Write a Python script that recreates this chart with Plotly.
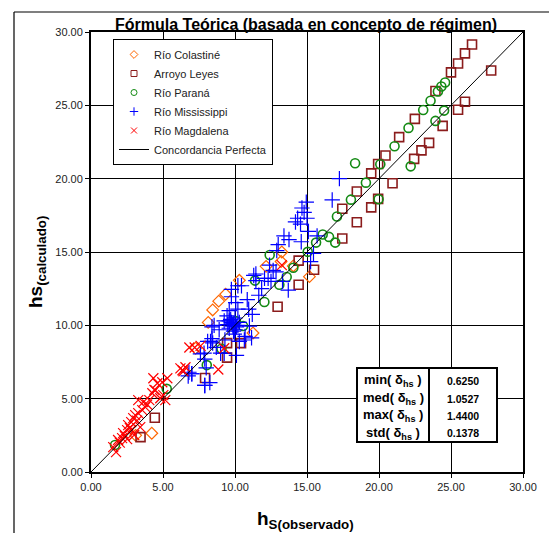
import plotly.graph_objects as go

# ---------------- data ----------------
colastine_x = [3.1, 4.22, 7.26, 8.14, 8.45, 8.87, 9.35, 10.3, 11.25, 12.16, 13.2, 13.25, 14.05, 15.17]
colastine_y = [2.5, 2.64, 8.44, 10.2, 11.05, 11.65, 12.12, 13.07, 9.48, 14.02, 14.35, 15.0, 14.05, 13.32]

leyes_x = [3.44, 4.43, 7.92, 9.45, 9.45, 10.42, 12.96, 14.42, 14.42, 15.49, 17.45, 17.45, 18.46, 18.46,
           19.46, 19.46, 19.94, 19.94, 20.45, 20.94, 21.4, 22.44, 22.49, 22.95, 23.48, 23.92, 24.42,
           25.0, 25.49, 25.49, 25.97, 25.97, 26.46, 27.79]
leyes_y = [2.38, 3.70, 6.41, 7.80, 8.79, 8.79, 11.27, 12.77, 14.41, 13.79, 15.92, 17.95, 17.03, 19.13,
           18.04, 20.36, 21.0, 18.62, 21.58, 19.69, 22.83, 21.35, 24.08, 21.93, 22.44, 25.98, 23.6,
           27.25, 24.7, 27.85, 28.54, 25.24, 29.15, 27.37]

parana_x = [1.67, 5.26, 8.04, 9.06, 10.06, 10.56, 11.39, 12.04, 12.41, 13.08, 13.59, 14.05, 15.05, 15.63,
            16.09, 16.53, 16.96, 17.08, 18.05, 18.34, 19.09, 19.97, 20.09, 21.08, 22.05, 22.2, 23.07,
            23.58, 23.92, 24.09, 24.33, 24.52, 24.59]
parana_y = [1.84, 5.67, 7.29, 8.4, 10.29, 9.95, 13.05, 11.59, 14.8, 12.77, 13.3, 13.93, 15.01, 15.64,
            16.19, 16.03, 15.64, 17.42, 18.57, 21.05, 19.73, 18.6, 20.98, 22.21, 23.46, 20.84, 24.68,
            25.31, 23.94, 25.95, 26.28, 24.64, 26.56]

mississippi_x = [6.8, 6.75, 7.0, 8.0, 7.9, 8.25, 7.6, 7.85, 8.1, 8.4, 8.45, 8.55, 8.4, 8.9, 9.0, 9.25,
                 9.25, 9.45, 9.6, 9.75, 9.85, 9.5, 9.6, 9.9, 10.1, 9.95, 10.2, 10.05, 9.75, 9.75, 10.45,
                 10.85, 10.95, 11.2, 11.0, 10.7, 11.15, 10.65, 10.3, 11.45, 11.45, 11.65, 11.85, 12.05,
                 12.3, 12.5, 12.4, 12.65, 12.85, 13.0, 13.4, 13.75, 13.7, 14.2, 14.35, 14.55, 14.65,
                 14.95, 14.6, 15.1, 15.25, 15.45, 15.7, 16.75, 17.25, 14.8, 15.0, 12.9, 10.2, 10.0,
                 9.7, 10.3, 10.0, 9.3, 8.7, 8.3, 7.9, 9.8, 10.1, 9.6, 10.2, 9.9, 7.0, 7.9, 11.3, 13.3]
mississippi_y = [6.8, 6.55, 6.7, 7.1, 5.9, 6.1, 8.05, 8.1, 8.9, 9.1, 8.8, 10.0, 9.9, 9.7, 8.1, 8.1,
                 10.3, 10.65, 11.0, 10.2, 9.95, 10.05, 9.8, 10.1, 7.95, 9.4, 11.1, 11.55, 11.95, 12.45,
                 12.7, 11.75, 11.1, 10.75, 9.95, 9.25, 9.15, 9.0, 8.9, 13.05, 13.5, 12.05, 12.5, 13.2,
                 13.2, 13.0, 14.1, 13.75, 13.65, 15.5, 16.1, 15.85, 12.4, 17.05, 17.3, 16.9, 18.0,
                 18.4, 15.7, 16.4, 14.35, 14.9, 16.1, 18.55, 20.0, 17.7, 17.3, 15.1, 12.7, 10.5,
                 10.4, 10.2, 9.7, 9.0, 8.5, 8.9, 7.7, 10.1, 9.9, 10.3, 10.0, 9.6, 6.7, 5.9, 13.4, 13.0]

magdalena_x = [1.54, 1.74, 1.88, 2.16, 2.23, 2.51, 2.58, 2.79, 2.93, 3.07, 3.28, 3.56, 2.79, 3.0, 2.51,
               3.42, 3.77, 3.63, 3.28, 4.05, 4.26, 4.47, 4.61, 4.33, 4.95, 5.02, 4.81, 5.30, 5.16,
               6.21, 6.42, 6.56, 6.35, 6.83, 7.2, 7.61, 8.84, 9.25, 13.25, 2.0, 2.35, 2.7, 3.2, 3.9, 4.4]
magdalena_y = [1.70, 1.36, 2.18, 2.31, 2.65, 2.86, 3.2, 3.4, 3.67, 3.88, 4.01, 4.22, 2.86, 2.52, 2.24,
               3.06, 4.42, 4.76, 4.9, 4.9, 5.37, 5.58, 6.05, 6.39, 6.12, 5.24, 5.03, 6.39, 4.9,
               7.07, 6.87, 7.14, 6.94, 8.49, 8.49, 8.6, 6.99, 8.44, 14.11, 2.0, 2.45, 3.0, 3.5, 4.6, 5.6]

line_x = [0, 30]
line_y = [0, 30]

stat_labels = ["min( δ<sub>hs</sub> )", "med( δ<sub>hs</sub> )", "max( δ<sub>hs</sub> )", "std( δ<sub>hs</sub> )"]
stat_values = ["0.6250", "1.0527", "1.4400", "0.1378"]

title_text = "Fórmula Teórica (basada en concepto de régimen)"

# ---------------- figure ----------------
W, H = 549, 533
L, R, T, B = 91, 26, 32, 61
PW, PH = W - L - R, H - T - B

def px(x):  # pixel -> paper x
    return (x - L) / PW

def py(y):  # pixel -> paper y
    return (H - B - y) / PH

series = [
    ("Río Colastiné", colastine_x, colastine_y, "diamond-open", 9, "#FF6600", 1.2),
    ("Arroyo Leyes", leyes_x, leyes_y, "square-open", 9, "#8B1C1C", 1.6),
    ("Río Paraná", parana_x, parana_y, "circle-open", 9, "#138A13", 1.6),
    ("Río Mississippi", mississippi_x, mississippi_y, "cross-thin-open", 11, "#0000FF", 1.2),
    ("Río Magdalena", magdalena_x, magdalena_y, "x-thin-open", 10, "#FF0000", 1.2),
]

fig = go.Figure()
for name, xs, ys, sym, size, col, lw in series:
    fig.add_trace(go.Scatter(x=xs, y=ys, mode="markers", name=name, showlegend=False, legendgroup=name,
                             marker=dict(symbol=sym, size=size, color=col, line=dict(width=lw, color=col))))
fig.add_trace(go.Scatter(x=line_x, y=line_y, mode="lines", name="Concordancia Perfecta", showlegend=False,
                         line=dict(color="black", width=1)))

# legend entries (small symbols as in the reference legend)
for name, xs, ys, sym, size, col, lw in series:
    fig.add_trace(go.Scatter(x=[None], y=[None], mode="markers", name=name, legendgroup=name,
                             marker=dict(symbol=sym, size=6, color=col, line=dict(width=1, color=col))))
fig.add_trace(go.Scatter(x=[None], y=[None], mode="lines", name="Concordancia Perfecta",
                         line=dict(color="black", width=1)))

axis_common = dict(range=[0, 30], dtick=5, tickformat=".2f", showgrid=True, gridcolor="black", gridwidth=1,
                   zeroline=False, showline=True, linecolor="black", linewidth=2, mirror=True,
                   ticks="outside", ticklen=4, tickcolor="black",
                   tickfont=dict(family="Liberation Sans, Arial", size=11, color="#222"))

fig.update_layout(
    width=W, height=H,
    margin=dict(l=L, r=R, t=T, b=B),
    paper_bgcolor="white", plot_bgcolor="white",
    xaxis=axis_common, yaxis=axis_common,
    showlegend=True,
    legend=dict(x=px(113), y=py(39), xanchor="left", yanchor="top",
                bgcolor="white", bordercolor="black", borderwidth=1,
                font=dict(family="Liberation Sans, Arial", size=11, color="#222"),
                tracegroupgap=0),
    font=dict(family="Liberation Sans, Arial"),
)

annotations = [
    dict(text="<b>" + title_text + "</b>", x=px(306), y=py(24), xref="paper", yref="paper",
         showarrow=False, font=dict(size=16, color="black"), xanchor="center", yanchor="middle"),
    dict(text="<b>h<sub>S(observado)</sub></b>", x=px(305), y=py(520), xref="paper", yref="paper",
         showarrow=False, font=dict(size=19, color="black"), xanchor="center", yanchor="middle"),
    dict(text="<b>hs<sub>(calculado)</sub></b>", x=px(37), y=py(262), xref="paper", yref="paper",
         showarrow=False, font=dict(size=19, color="black"), textangle=-90, xanchor="center", yanchor="middle"),
]
row_y = [380.5, 398.5, 415.5, 433]
for lab, val, ry in zip(stat_labels, stat_values, row_y):
    annotations.append(dict(text="<b>" + lab + "</b>", x=px(393), y=py(ry), xref="paper", yref="paper",
                            showarrow=False, font=dict(size=13, color="black"), xanchor="center", yanchor="middle"))
    annotations.append(dict(text="<b>" + val + "</b>", x=px(463), y=py(ry), xref="paper", yref="paper",
                            showarrow=False, font=dict(size=10.5, color="black"), xanchor="center", yanchor="middle"))
fig.update_layout(annotations=annotations)

shapes = [
    dict(type="rect", xref="paper", yref="paper", x0=px(357), x1=px(497), y0=py(368), y1=py(442),
         line=dict(color="black", width=2), fillcolor="white", layer="above"),
    dict(type="line", xref="paper", yref="paper", x0=px(429), x1=px(429), y0=py(368), y1=py(442),
         line=dict(color="black", width=2), layer="above"),
    dict(type="line", xref="paper", yref="paper", x0=px(14), x1=px(549), y0=py(12), y1=py(12),
         line=dict(color="black", width=1.2)),
    dict(type="line", xref="paper", yref="paper", x0=px(14), x1=px(14), y0=py(12), y1=py(533),
         line=dict(color="black", width=1.2)),
]
fig.update_layout(shapes=shapes)

fig.write_html("out.html")
